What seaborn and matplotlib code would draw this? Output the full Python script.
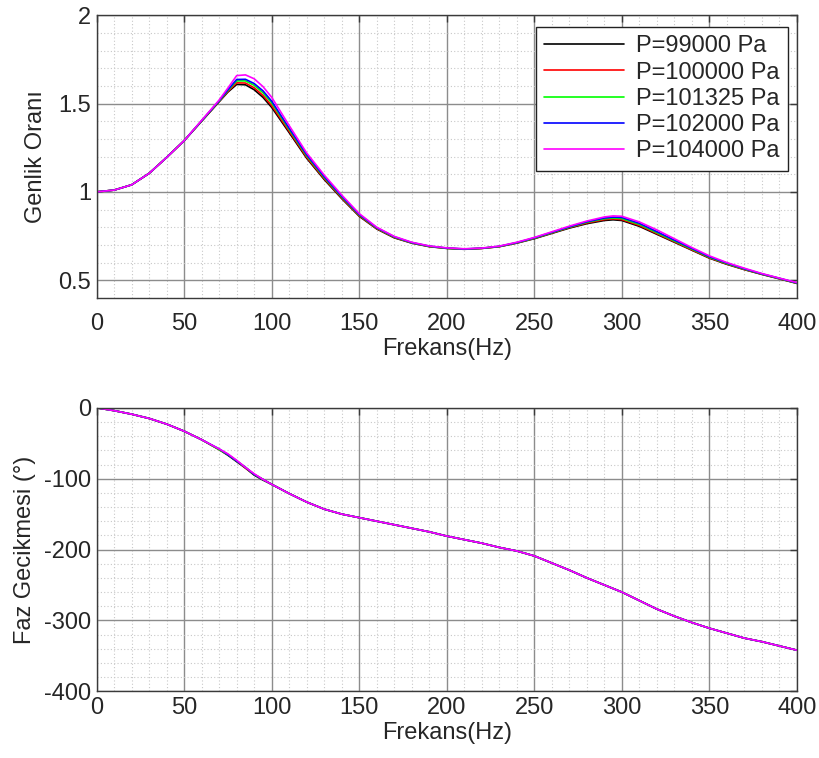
import numpy as np
import pandas as pd
import matplotlib
matplotlib.use("Agg")
import matplotlib.pyplot as plt
import seaborn as sns
from matplotlib.ticker import MultipleLocator

freq = [0, 10, 20, 30, 40, 50, 60, 70, 75, 80, 85, 90, 95, 100, 110, 120, 130, 140, 150,
        160, 170, 180, 190, 200, 210, 220, 230, 240, 250, 260, 270, 280, 290, 295, 300,
        310, 320, 330, 340, 350, 360, 370, 380, 390, 400]

amp_99000 = [1.00, 1.01, 1.04, 1.105, 1.195, 1.29, 1.40, 1.51, 1.565, 1.608, 1.606, 1.578, 1.535,
             1.478, 1.335, 1.19, 1.07, 0.962, 0.862, 0.79, 0.74, 0.71, 0.69, 0.68, 0.675, 0.68,
             0.69, 0.71, 0.735, 0.765, 0.795, 0.82, 0.838, 0.842, 0.838, 0.805, 0.76, 0.715,
             0.67, 0.625, 0.59, 0.56, 0.533, 0.508, 0.482]
amp_100000 = [1.00, 1.01, 1.04, 1.105, 1.195, 1.29, 1.401, 1.512, 1.569, 1.617, 1.616, 1.589, 1.546,
              1.488, 1.343, 1.196, 1.075, 0.966, 0.865, 0.792, 0.742, 0.711, 0.691, 0.681, 0.676,
              0.68, 0.69, 0.711, 0.737, 0.767, 0.798, 0.824, 0.843, 0.847, 0.843, 0.81, 0.764,
              0.718, 0.672, 0.627, 0.592, 0.561, 0.534, 0.509, 0.483]
amp_101325 = [1.00, 1.01, 1.04, 1.105, 1.195, 1.29, 1.402, 1.514, 1.574, 1.628, 1.628, 1.603, 1.561,
              1.503, 1.353, 1.204, 1.081, 0.971, 0.869, 0.795, 0.744, 0.712, 0.692, 0.681, 0.676,
              0.681, 0.691, 0.712, 0.738, 0.769, 0.80, 0.828, 0.848, 0.852, 0.849, 0.816, 0.769,
              0.722, 0.676, 0.63, 0.594, 0.563, 0.535, 0.51, 0.484]
amp_102000 = [1.00, 1.01, 1.04, 1.105, 1.195, 1.29, 1.403, 1.516, 1.578, 1.636, 1.637, 1.613, 1.572,
              1.513, 1.36, 1.21, 1.086, 0.975, 0.872, 0.797, 0.746, 0.713, 0.693, 0.682, 0.677,
              0.681, 0.692, 0.713, 0.74, 0.771, 0.802, 0.831, 0.852, 0.857, 0.855, 0.822, 0.775,
              0.727, 0.68, 0.633, 0.597, 0.565, 0.536, 0.511, 0.485]
amp_104000 = [1.00, 1.01, 1.04, 1.105, 1.195, 1.29, 1.405, 1.52, 1.588, 1.658, 1.662, 1.64, 1.596,
              1.535, 1.375, 1.22, 1.095, 0.982, 0.877, 0.80, 0.748, 0.715, 0.694, 0.683, 0.678,
              0.682, 0.693, 0.715, 0.742, 0.774, 0.806, 0.835, 0.858, 0.864, 0.862, 0.83, 0.785,
              0.735, 0.685, 0.638, 0.60, 0.568, 0.538, 0.512, 0.487]

phase_99000 = [0, -4, -9, -15, -23, -33, -45, -59, -67, -76, -85, -95, -102, -108, -121, -133, -143,
               -150, -155, -160, -165, -170, -175, -181, -186, -191, -197, -202, -209, -219, -229,
               -240, -250, -255, -260, -272, -284, -294, -303, -311, -318, -325, -330, -336, -342]
phase_100000 = [0, -4, -9, -15, -23, -33, -45, -59, -66, -75, -85, -94, -101, -108, -121, -133, -143,
                -150, -155, -160, -165, -170, -175, -181, -186, -191, -197, -202, -209, -219, -229,
                -240, -250, -255, -260, -272, -284, -294, -303, -311, -318, -325, -330, -336, -342]
phase_101325 = [0, -4, -9, -15, -23, -33, -45, -59, -66, -75, -84, -94, -101, -108, -121, -133, -143,
                -150, -155, -160, -165, -170, -175, -181, -186, -191, -197, -202, -209, -219, -229,
                -240, -250, -255, -260, -272, -284, -294, -303, -311, -318, -325, -330, -336, -342]
phase_102000 = [0, -4, -9, -15, -23, -33, -45, -58, -66, -75, -84, -94, -101, -108, -121, -133, -143,
                -150, -155, -160, -165, -170, -175, -181, -186, -191, -197, -202, -209, -219, -229,
                -240, -250, -255, -260, -272, -284, -294, -303, -311, -318, -325, -330, -336, -342]
phase_104000 = [0, -4, -9, -15, -23, -33, -45, -58, -65, -74, -84, -93, -101, -108, -121, -133, -143,
                -150, -155, -160, -165, -170, -175, -181, -186, -191, -197, -202, -209, -219, -229,
                -240, -250, -255, -260, -272, -284, -294, -303, -311, -318, -325, -330, -336, -342]

labels = ["P=99000 Pa", "P=100000 Pa", "P=101325 Pa", "P=102000 Pa", "P=104000 Pa"]
colors = ["#000000", "#ff0000", "#00ff00", "#0000ff", "#ff00ff"]
amps = [amp_99000, amp_100000, amp_101325, amp_102000, amp_104000]
phases = [phase_99000, phase_100000, phase_101325, phase_102000, phase_104000]

top_yticks = [0.5, 1, 1.5, 2]
top_yticklabels = ["0.5", "1", "1.5", "2"]
bot_yticks = [-400, -300, -200, -100, 0]
bot_yticklabels = ["-400", "-300", "-200", "-100", "0"]
xticks = [0, 50, 100, 150, 200, 250, 300, 350, 400]

rows = []
for lab, a, p in zip(labels, amps, phases):
    for f, av, pv in zip(freq, a, p):
        rows.append({"f": f, "amp": av, "phase": pv, "P": lab})
df = pd.DataFrame(rows)

sns.set_style("white")
plt.rcParams["font.family"] = ["Liberation Sans", "DejaVu Sans"]
plt.rcParams["axes.unicode_minus"] = False
FS = 17

fig = plt.figure(figsize=(8.19, 7.58), dpi=100)
ax1 = fig.add_axes([0.118, 0.607, 0.855, 0.373])
ax2 = fig.add_axes([0.118, 0.088, 0.855, 0.374])

pal = dict(zip(labels, colors))
sns.lineplot(data=df, x="f", y="amp", hue="P", hue_order=labels, palette=pal,
             ax=ax1, linewidth=1.2, sort=False, estimator=None, legend=False)
sns.lineplot(data=df, x="f", y="phase", hue="P", hue_order=labels, palette=pal,
             ax=ax2, linewidth=1.2, sort=False, estimator=None, legend=False)

for ax in (ax1, ax2):
    ax.set_xlim(0, 400)
    ax.set_xticks(xticks)
    ax.set_xticklabels([str(x) for x in xticks])
    ax.xaxis.set_minor_locator(MultipleLocator(10))
    ax.grid(True, which="major", color="#8c8c8c", linewidth=1.0, linestyle="-")
    ax.grid(True, which="minor", color="#c8c8c8", linewidth=0.8, linestyle=(0, (1, 2)))
    ax.set_axisbelow(True)
    for s in ax.spines.values():
        s.set_color("#3a3a3a")
        s.set_linewidth(1.0)
    ax.tick_params(axis="both", which="major", direction="in", length=5, width=1,
                   color="#3a3a3a", labelsize=FS, top=True, right=True, pad=4)
    ax.tick_params(axis="both", which="minor", length=0)
    ax.set_xlabel("Frekans(Hz)", fontsize=FS, labelpad=2)

ax1.tick_params(axis="x", which="major", pad=11)

ax1.set_ylim(0.4, 2)
ax1.set_yticks(top_yticks)
ax1.set_yticklabels(top_yticklabels)
ax1.yaxis.set_minor_locator(MultipleLocator(0.1))
ax1.set_ylabel("Genlik Oranı", fontsize=FS, labelpad=8)

ax2.set_ylim(-400, 0)
ax2.set_yticks(bot_yticks)
ax2.set_yticklabels(bot_yticklabels)
ax2.yaxis.set_minor_locator(MultipleLocator(20))
ax2.set_ylabel("Faz Gecikmesi (°)", fontsize=FS, labelpad=6)

handles = [plt.Line2D([], [], color=c, linewidth=1.2) for c in colors]
leg = ax1.legend(handles, labels, loc="upper right", fontsize=FS, frameon=True,
                 fancybox=False, edgecolor="#222222", framealpha=1, handlelength=3.4,
                 labelspacing=0.18, borderpad=0.35, handletextpad=0.5, borderaxespad=0,
                 bbox_to_anchor=(0.987, 0.958))
leg.get_frame().set_linewidth(1.0)

fig.savefig("out.png", dpi=100, facecolor="white")
